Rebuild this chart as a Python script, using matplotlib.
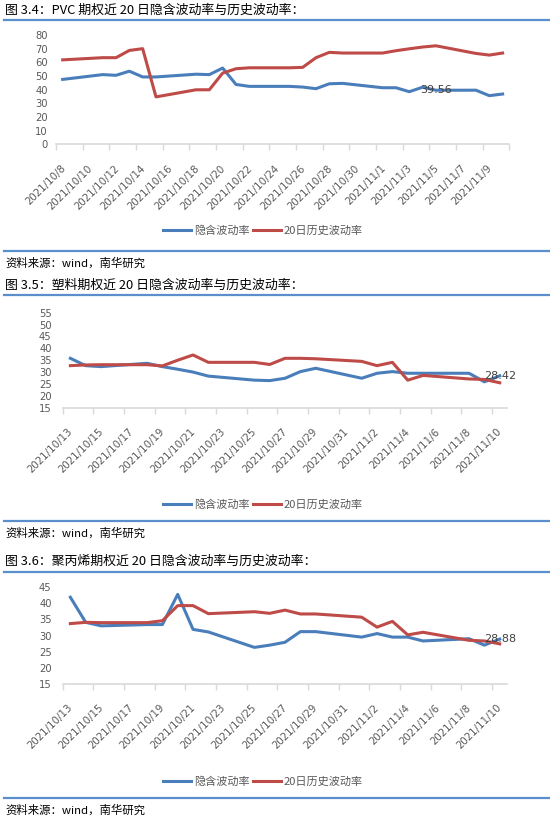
import datetime as dt
import matplotlib
matplotlib.use("Agg")
import matplotlib.pyplot as plt
import matplotlib.dates as mdates
import matplotlib.transforms as mtransforms

plt.rcParams['font.family'] = ['DejaVu Sans', 'Noto Sans CJK SC']

W, H = 550, 817
BLUE = '#4A7EBB'
RED = '#BE4B48'
RULE = '#5B8FCB'
GRAY = '#595959'
CJK = ['Noto Sans CJK SC', 'DejaVu Sans']

# ---- data ----
pvc_dates = ['10/8', '10/11', '10/12', '10/13', '10/14', '10/15', '10/18', '10/19', '10/20',
             '10/21', '10/22', '10/25', '10/26', '10/27', '10/28', '10/29', '11/1', '11/2',
             '11/3', '11/4', '11/5', '11/8', '11/9', '11/10']
pvc_implied = [47.5, 51.0, 50.5, 53.5, 49.3, 49.3, 51.3, 51.0, 55.8, 43.8, 42.4, 42.4, 41.9,
               40.7, 44.3, 44.6, 41.4, 41.4, 38.5, 41.8, 39.56, 39.6, 35.6, 36.8]
pvc_hist = [61.8, 63.4, 63.4, 68.7, 70.0, 34.7, 39.9, 39.9, 52.1, 55.3, 56.0, 56.0, 56.3,
            63.4, 67.3, 66.8, 66.8, 68.5, 69.9, 71.2, 72.1, 66.5, 65.3, 66.8]

pl_dates = ['10/13', '10/14', '10/15', '10/18', '10/19', '10/20', '10/21', '10/22', '10/25',
            '10/26', '10/27', '10/28', '10/29', '11/1', '11/2', '11/3', '11/4', '11/5',
            '11/8', '11/9', '11/10']
pl_implied = [35.8, 32.7, 32.3, 33.7, 32.3, 31.2, 30.0, 28.3, 26.6, 26.4, 27.4, 30.2, 31.6,
              27.4, 29.5, 30.2, 29.5, 29.5, 29.5, 25.9, 28.42]
pl_hist = [32.7, 33.0, 33.1, 33.1, 32.6, 35.0, 37.2, 34.1, 34.1, 33.2, 35.8, 35.8, 35.6,
           34.5, 32.7, 34.1, 26.6, 28.6, 27.1, 26.9, 25.5]

pp_dates = pl_dates
pp_implied = [41.9, 34.1, 33.0, 33.4, 33.4, 42.8, 31.9, 31.1, 26.3, 27.0, 27.9, 31.2, 31.2,
              29.5, 30.6, 29.5, 29.5, 28.3, 29.0, 27.0, 28.88]
pp_hist = [33.7, 34.1, 34.0, 34.0, 34.6, 39.3, 39.3, 36.8, 37.4, 36.9, 37.9, 36.7, 36.7,
           35.7, 32.6, 34.4, 30.2, 31.0, 28.5, 28.3, 27.4]

titles = ['图 3.4：PVC 期权近 20 日隐含波动率与历史波动率：',
          '图 3.5：塑料期权近 20 日隐含波动率与历史波动率：',
          '图 3.6：聚丙烯期权近 20 日隐含波动率与历史波动率：']
source = '资料来源：wind，南华研究'
legend_labels = ['隐含波动率', '20日历史波动率']


def to_date(s):
    m, d = s.split('/')
    return dt.date(2021, int(m), int(d))


fig = plt.figure(figsize=(W / 100, H / 100), dpi=100)


def fy(py):
    return 1 - py / H


def panel(title, title_y, rule_y, ax_box, start, end, ylim, ystep, dates, imp, hist,
          lab_idx, lab_val, legend_y, src_rule_y, src_y, ypad):
    fig.text(5 / W, fy(title_y), title, fontsize=9.3, family=CJK,
             ha='left', va='center', color='black')
    fig.add_artist(plt.Line2D([4 / W, 1], [fy(rule_y)] * 2, color=RULE, lw=1.6))
    x0, x1, ytop, ybot = ax_box
    ax = fig.add_axes([x0 / W, fy(ybot), (x1 - x0) / W, (ybot - ytop) / H])
    xs = [mdates.date2num(to_date(d)) + 0.5 for d in dates]
    l1, = ax.plot(xs, imp, color=BLUE, lw=2.2, clip_on=False, solid_joinstyle='round')
    l2, = ax.plot(xs, hist, color=RED, lw=2.2, clip_on=False, solid_joinstyle='round')
    ax.annotate(f'{lab_val}', (xs[lab_idx], imp[lab_idx]), ha='center', va='center',
                fontsize=8, color='#404040')
    ax.set_xlim(mdates.date2num(start), mdates.date2num(end))
    ax.set_ylim(*ylim)
    ax.set_yticks(list(range(ylim[0], ylim[1] + 1, ystep)))
    ticks = []
    d = start
    while d <= end:
        ticks.append(d)
        d += dt.timedelta(days=2)
    ax.set_xticks([mdates.date2num(t) for t in ticks])
    ax.set_xticklabels([f'{t.year}/{t.month}/{t.day}' if t < end else '' for t in ticks])
    for s in ['top', 'right', 'left']:
        ax.spines[s].set_visible(False)
    ax.spines['bottom'].set_color('#D9D9D9')
    ax.spines['bottom'].set_linewidth(1.2)
    ax.tick_params(axis='y', length=0, pad=ypad, labelsize=7.2, labelcolor=GRAY)
    ax.tick_params(axis='x', length=4, color='#D9D9D9', width=1, pad=9.5,
                   labelsize=7.4, labelcolor=GRAY)
    off = mtransforms.ScaledTranslation(4.5 / 100, 0, fig.dpi_scale_trans)
    for lab in ax.get_xticklabels():
        lab.set_rotation(45)
        lab.set_ha('right')
        lab.set_va('top')
        lab.set_rotation_mode('anchor')
        lab.set_transform(lab.get_transform() + off)
    ax.set_facecolor('none')
    fig.legend([l1, l2], legend_labels, loc='center', bbox_to_anchor=(263 / W, fy(legend_y)),
               ncol=2, frameon=False, prop={'family': CJK, 'size': 8}, labelcolor=GRAY,
               handlelength=2.5, handletextpad=0.25, columnspacing=0.3)
    fig.add_artist(plt.Line2D([4 / W, 1], [fy(src_rule_y)] * 2, color=RULE, lw=1.6))
    fig.text(5 / W, fy(src_y), source, fontsize=8.2, family=CJK, ha='left',
             va='center', color='black')


panel(titles[0], 10, 20, (56, 509.3, 35, 144.3), dt.date(2021, 10, 8), dt.date(2021, 11, 11),
      (0, 80), 10, pvc_dates, pvc_implied, pvc_hist, 20, 39.56, 231, 251, 263, 6)
panel(titles[1], 285, 295, (62.7, 507.4, 312.7, 407.7), dt.date(2021, 10, 13),
      dt.date(2021, 11, 11), (15, 55), 5, pl_dates, pl_implied, pl_hist, 20, 28.42,
      505, 521, 533, 8)
panel(titles[2], 561, 571.7, (62.7, 507.4, 587.3, 683.7), dt.date(2021, 10, 13),
      dt.date(2021, 11, 11), (15, 45), 5, pp_dates, pp_implied, pp_hist, 20, 28.88,
      782, 798, 810, 8)

fig.savefig('out.png', dpi=100)
